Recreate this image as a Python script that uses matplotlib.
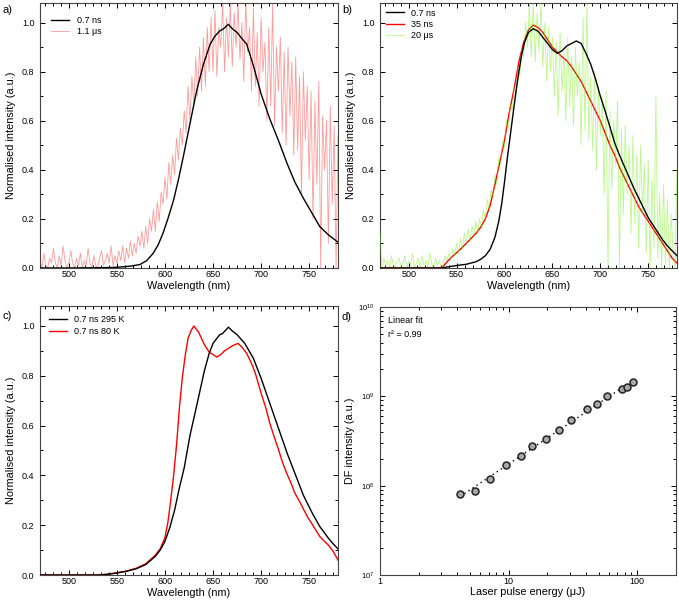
import numpy as np
import matplotlib
matplotlib.use('Agg')
import matplotlib.pyplot as plt
from matplotlib.ticker import MultipleLocator, AutoMinorLocator, FixedLocator, FuncFormatter, NullFormatter

plt.rcParams['font.family'] = ['Liberation Sans', 'DejaVu Sans']
plt.rcParams['mathtext.fontset'] = 'custom'
plt.rcParams['mathtext.rm'] = 'Liberation Sans'
plt.rcParams['mathtext.default'] = 'regular'

# ---- panel a: 0.7 ns (smooth) and 1.1 us (noisy) ----
wl_a = [470, 500, 530, 545, 554, 565, 574, 581, 588, 593, 598, 603, 609, 614, 619, 626,
        633, 640, 647, 652, 657, 661, 666, 670, 675, 680, 685, 692, 700, 709, 718, 727,
        735, 744, 753, 761, 770, 780]
a_fast = [0.0, 0.0, 0.001, 0.002, 0.004, 0.008, 0.014, 0.03, 0.061, 0.095, 0.142, 0.2, 0.277,
          0.36, 0.452, 0.588, 0.723, 0.83, 0.912, 0.945, 0.966, 0.975, 0.993, 0.975, 0.96,
          0.935, 0.912, 0.824, 0.709, 0.608, 0.52, 0.426, 0.351, 0.284, 0.223, 0.169, 0.135,
          0.105]

wl_noisy = np.arange(470, 781, 2)
a_slow = [0.03, 0.00, 0.06, 0.01, 0.00, 0.04, 0.02, 0.08, 0.02, 0.00,
          0.05, 0.01, 0.09, 0.03, 0.00, 0.02, 0.07, 0.02, 0.00, 0.04,
          0.01, 0.06, 0.00, 0.03, 0.01, 0.08, 0.02, 0.00, 0.05, 0.01,
          0.00, 0.04, 0.07, 0.01, 0.03, 0.06, 0.02, 0.09, 0.01, 0.05,
          0.02, 0.07, 0.03, 0.09, 0.02, 0.08, 0.04, 0.11, 0.05, 0.10,
          0.06, 0.13, 0.09, 0.15, 0.08, 0.17, 0.10, 0.20, 0.15, 0.24,
          0.15, 0.27, 0.19, 0.31, 0.26, 0.37, 0.28, 0.43, 0.34, 0.46,
          0.38, 0.53, 0.44, 0.57, 0.50, 0.64, 0.55, 0.74, 0.60, 0.78,
          0.66, 0.86, 0.70, 0.90, 0.72, 0.94, 0.74, 0.98, 0.80, 1.02,
          0.80, 1.05, 0.78, 0.98, 0.90, 1.08, 0.80, 1.02, 0.86, 1.08,
          0.82, 1.04, 0.90, 1.08, 0.85, 1.00, 0.76, 1.08, 0.88, 0.98,
          0.72, 1.06, 0.74, 0.96, 0.66, 1.02, 0.80, 0.92, 0.60, 0.98,
          0.66, 1.08, 0.58, 0.90, 0.72, 0.94, 0.55, 0.88, 0.50, 0.90,
          0.62, 0.84, 0.46, 0.86, 0.48, 0.78, 0.30, 0.80, 0.52, 0.74,
          0.36, 0.72, 0.20, 0.68, 0.34, 0.76, 0.00, 0.62, 0.40, 0.60,
          0.10, 0.66, 0.26, 0.58, 0.00, 0.54]

# ---- panel b: 0.7 ns, 35 ns, 20 us ----
wl_b_fast = [470, 535, 540, 550, 560, 570, 575, 580, 585, 590, 594, 597, 600, 603, 606, 609,
             612, 615, 618, 621, 625, 630, 635, 640, 645, 650, 655, 660, 665, 670, 675, 680,
             685, 690, 695, 700, 705, 710, 715, 720, 725, 730, 735, 740, 745, 750, 755, 760,
             765, 770, 775, 780]
b_fast = [0.0, 0.0, 0.004, 0.01, 0.015, 0.025, 0.035, 0.05, 0.076, 0.125, 0.19, 0.26, 0.35,
          0.45, 0.54, 0.63, 0.72, 0.8, 0.87, 0.92, 0.96, 0.975, 0.965, 0.94, 0.915, 0.89,
          0.875, 0.885, 0.905, 0.915, 0.925, 0.915, 0.875, 0.83, 0.77, 0.7, 0.64, 0.575,
          0.51, 0.46, 0.415, 0.37, 0.325, 0.285, 0.245, 0.205, 0.175, 0.145, 0.115, 0.09,
          0.07, 0.05]

wl_b_mid = [470, 530, 535, 540, 545, 550, 555, 560, 565, 570, 575, 580, 585, 590, 595, 600,
            605, 610, 615, 620, 625, 630, 635, 640, 645, 650, 655, 660, 665, 670, 675, 680,
            685, 690, 695, 700, 705, 710, 715, 720, 725, 730, 735, 740, 745, 750, 755, 760,
            765, 770, 775, 780]
b_mid = [0.0, 0.0, 0.002, 0.025, 0.045, 0.062, 0.08, 0.1, 0.12, 0.14, 0.165, 0.2, 0.255,
         0.34, 0.43, 0.52, 0.635, 0.73, 0.84, 0.92, 0.97, 0.99, 0.98, 0.96, 0.93, 0.9, 0.88,
         0.86, 0.845, 0.82, 0.79, 0.76, 0.72, 0.68, 0.64, 0.6, 0.55, 0.5, 0.46, 0.41, 0.37,
         0.33, 0.29, 0.25, 0.22, 0.19, 0.16, 0.13, 0.1, 0.07, 0.04, 0.02]

b_slow = [0.15, 0.00, 0.04, 0.01, 0.03, 0.00, 0.05, 0.01, 0.00, 0.03,
          0.04, 0.00, 0.02, 0.05, 0.00, 0.03, 0.01, 0.06, 0.00, 0.02,
          0.04, 0.00, 0.05, 0.01, 0.03, 0.00, 0.06, 0.02, 0.00, 0.04,
          0.01, 0.03, 0.00, 0.02, 0.05, 0.03, 0.06, 0.03, 0.08, 0.05,
          0.10, 0.06, 0.12, 0.08, 0.14, 0.10, 0.16, 0.11, 0.17, 0.13,
          0.19, 0.14, 0.20, 0.16, 0.24, 0.20, 0.28, 0.24, 0.32, 0.29,
          0.38, 0.34, 0.45, 0.42, 0.52, 0.49, 0.60, 0.57, 0.67, 0.64,
          0.74, 0.70, 0.82, 0.78, 0.90, 0.86, 1.00, 0.90, 1.08, 0.86,
          1.08, 0.84, 1.04, 0.88, 1.08, 0.82, 1.00, 0.76, 0.98, 0.80,
          0.94, 0.70, 0.92, 0.62, 0.96, 0.72, 0.88, 0.60, 0.94, 0.66,
          0.86, 0.58, 0.90, 0.70, 0.84, 0.50, 1.02, 0.56, 1.08, 0.52,
          0.78, 0.48, 0.80, 0.40, 0.74, 0.54, 0.70, 0.30, 0.72, 0.00,
          0.64, 0.32, 0.60, 0.42, 0.68, 0.00, 0.56, 0.22, 0.58, 0.30,
          0.50, 0.14, 0.54, 0.18, 0.46, 0.08, 0.50, 0.22, 0.42, 0.06,
          0.44, 0.00, 0.36, 0.08, 0.70, 0.04, 0.30, 0.00, 0.34, 0.02,
          0.28, 0.00, 0.22, 0.06, 0.00, 0.40]

# ---- panel c: 0.7 ns at 295 K and 80 K ----
wl_c_rt = [470, 530, 540, 550, 560, 570, 580, 590, 595, 600, 605, 610, 615, 620, 626, 633,
           641, 646, 650, 657, 660, 666, 670, 675, 683, 692, 700, 709, 718, 727, 735, 744,
           753, 761, 770, 775, 780]
c_rt = [0.0, 0.0, 0.003, 0.008, 0.015, 0.025, 0.042, 0.075, 0.1, 0.135, 0.19, 0.26, 0.35,
        0.43, 0.56, 0.68, 0.82, 0.89, 0.93, 0.965, 0.97, 0.995, 0.98, 0.965, 0.93, 0.87,
        0.79, 0.69, 0.59, 0.49, 0.41, 0.32, 0.25, 0.195, 0.148, 0.125, 0.105]

wl_c_lt = [470, 530, 540, 550, 560, 570, 580, 590, 595, 600, 603, 606, 609, 612, 615, 618,
           621, 624, 627, 630, 635, 641, 646, 650, 654, 658, 662, 666, 670, 676, 680, 685,
           690, 694, 700, 705, 709, 714, 718, 722, 727, 731, 735, 740, 744, 748, 753, 757,
           761, 766, 770, 775, 780]
c_lt = [0.0, 0.0, 0.003, 0.009, 0.016, 0.027, 0.045, 0.08, 0.105, 0.15, 0.21, 0.3, 0.4,
        0.52, 0.67, 0.79, 0.88, 0.95, 0.98, 1.0, 0.975, 0.925, 0.895, 0.885, 0.875, 0.885,
        0.9, 0.91, 0.92, 0.93, 0.915, 0.89, 0.85, 0.81, 0.73, 0.67, 0.61, 0.55, 0.505,
        0.455, 0.405, 0.37, 0.33, 0.295, 0.265, 0.235, 0.205, 0.18, 0.155, 0.135, 0.12,
        0.095, 0.06]

# ---- panel d: DF intensity vs laser pulse energy ----
energy = [4.22, 5.45, 7.17, 9.48, 12.4, 15.1, 19.6, 24.6, 30.8, 40.7, 48.4, 57.8, 76.0, 83.2, 93.1]
df_int = [8.1e7, 8.8e7, 1.18e8, 1.69e8, 2.14e8, 2.77e8, 3.29e8, 4.22e8, 5.46e8, 7.25e8,
          8.18e8, 1.02e9, 1.21e9, 1.26e9, 1.44e9]

TICK = 6.5
LAB = 7.8


def style_spectrum(ax):
    ax.set_xlim(470, 780)
    ax.set_ylim(0, 1.08)
    ax.xaxis.set_major_locator(MultipleLocator(50))
    ax.xaxis.set_minor_locator(AutoMinorLocator(6))
    ax.yaxis.set_major_locator(MultipleLocator(0.2))
    ax.yaxis.set_minor_locator(AutoMinorLocator(2))
    ax.tick_params(which='both', direction='in', top=True, right=True, labelsize=TICK, width=0.7)
    ax.tick_params(which='major', length=3.5)
    ax.tick_params(which='minor', length=2)
    ax.tick_params(axis='x', pad=1.5)
    ax.tick_params(axis='y', pad=4)
    ax.set_xlabel('Wavelength (nm)', fontsize=LAB)
    ax.set_ylabel('Normalised intensity (a.u.)', fontsize=LAB)
    ax.xaxis.set_label_coords(0.5, -0.05)
    ax.yaxis.set_label_coords(-0.08, 0.5)
    for s in ax.spines.values():
        s.set_linewidth(0.8)
        s.set_color('#444444')


fig = plt.figure(figsize=(6.79, 6.03), dpi=100)
ax_a = fig.add_axes([0.0589, 0.5556, 0.4389, 0.4395])
ax_b = fig.add_axes([0.5596, 0.5556, 0.4374, 0.4395])
ax_c = fig.add_axes([0.0589, 0.0464, 0.4389, 0.4461])
ax_d = fig.add_axes([0.5596, 0.0464, 0.4360, 0.4445])

# a)
ax_a.plot(wl_noisy, a_slow, color='#ff2020', alpha=0.45, lw=0.6, label='1.1 μs', zorder=2)
ax_a.plot(wl_a, a_fast, color='black', lw=1.0, label='0.7 ns', zorder=3)
style_spectrum(ax_a)
h, l = ax_a.get_legend_handles_labels()
ax_a.legend(h[::-1], l[::-1], loc='upper left', bbox_to_anchor=(0.029, 0.962), frameon=False,
            fontsize=TICK, handlelength=2.0, labelspacing=0.25, borderpad=0.3, borderaxespad=0)

# b)
ax_b.plot(wl_b_mid, b_mid, color='red', lw=1.0, label='35 ns', zorder=2)
ax_b.plot(wl_noisy, b_slow, color='#66ee00', alpha=0.45, lw=0.6, label='20 μs', zorder=3)
ax_b.plot(wl_b_fast, b_fast, color='black', lw=1.0, label='0.7 ns', zorder=4)
style_spectrum(ax_b)
h, l = ax_b.get_legend_handles_labels()
ax_b.legend([h[2], h[0], h[1]], [l[2], l[0], l[1]], loc='upper left', bbox_to_anchor=(0.01, 0.989),
            frameon=False, fontsize=TICK, handlelength=2.0, labelspacing=0.25, borderpad=0.3,
            borderaxespad=0)

# c)
ax_c.plot(wl_c_rt, c_rt, color='black', lw=1.0, label='0.7 ns 295 K', zorder=3)
ax_c.plot(wl_c_lt, c_lt, color='red', lw=1.0, label='0.7 ns 80 K', zorder=2)
style_spectrum(ax_c)
ax_c.legend(loc='upper left', bbox_to_anchor=(0.02, 0.975), frameon=False, fontsize=TICK,
            handlelength=2.0, labelspacing=0.25, borderpad=0.3, borderaxespad=0)

# d)
coef = np.polyfit(np.log10(energy), np.log10(df_int), 1)
xf = np.array([energy[0], energy[-1]])
ax_d.plot(xf, 10 ** np.polyval(coef, np.log10(xf)), color='black', lw=1.0,
          linestyle=(0, (1, 2.5)), zorder=2)
ax_d.plot(energy, df_int, 'o', ms=5, mfc='#a8a8a8', mec='#222222', mew=1.1, zorder=3)
ax_d.set_xscale('log')
ax_d.set_yscale('log')
ax_d.set_xlim(1, 200)
ax_d.set_ylim(1e7, 1e10)
ax_d.xaxis.set_major_locator(FixedLocator([1, 10, 100]))
ax_d.xaxis.set_major_formatter(FuncFormatter(lambda v, p: f'{v:g}'))
ax_d.xaxis.set_minor_formatter(NullFormatter())
ax_d.tick_params(which='both', direction='in', top=True, right=True, labelsize=TICK, width=0.7)
ax_d.tick_params(which='major', length=3.5)
ax_d.tick_params(which='minor', length=2)
ax_d.tick_params(axis='x', pad=1.5)
ax_d.tick_params(axis='y', pad=4, labelsize=5.5)
ax_d.set_xlabel('Laser pulse energy (μJ)', fontsize=LAB)
ax_d.set_ylabel('DF intensity (a.u.)', fontsize=LAB)
ax_d.xaxis.set_label_coords(0.5, -0.045)
ax_d.yaxis.set_label_coords(-0.085, 0.5)
for s in ax_d.spines.values():
    s.set_linewidth(0.8)
    s.set_color('#444444')
ax_d.text(0.027, 0.949, 'Linear fit', transform=ax_d.transAxes, fontsize=TICK, va='center')
ax_d.text(0.027, 0.899, 'r² = 0.99', transform=ax_d.transAxes, fontsize=TICK, va='center')

# panel letters
for txt, x, y in [('a)', 0.003, 0.983), ('b)', 0.504, 0.983), ('c)', 0.003, 0.476), ('d)', 0.503, 0.474)]:
    fig.text(x, y, txt, fontsize=8, va='center')

fig.savefig('out.png', dpi=100)
